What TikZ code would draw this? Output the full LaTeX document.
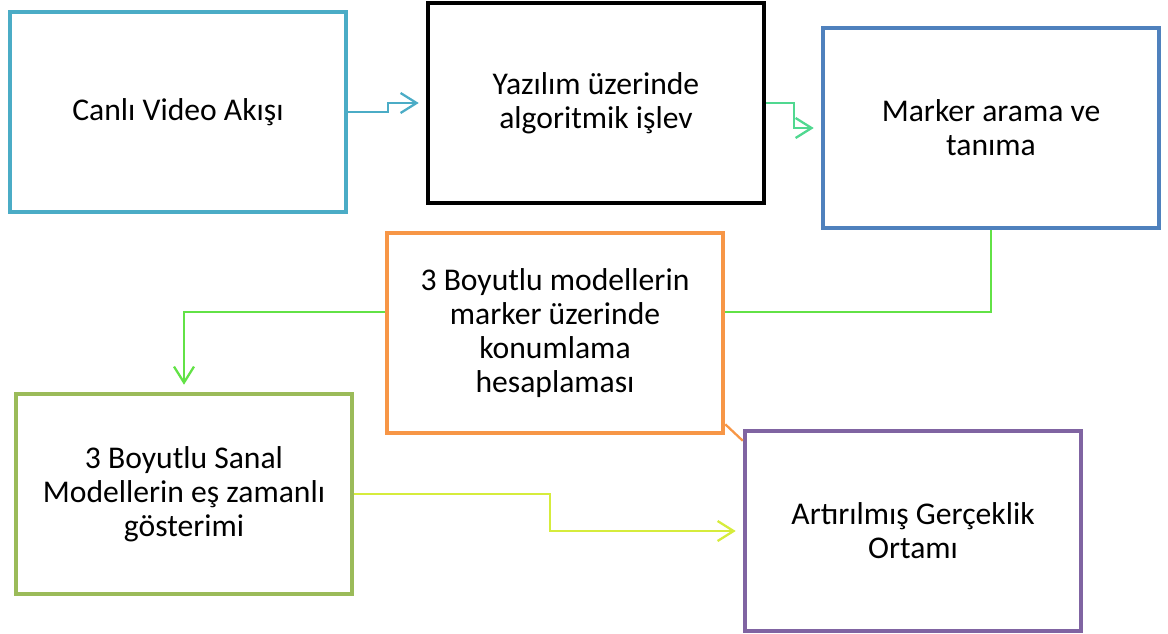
\documentclass[tikz,border=0pt]{standalone}
\usepackage{fontspec}
\setmainfont{Carlito}
\usepackage{tikz}
\usetikzlibrary{arrows.meta, positioning}

\definecolor{boxcyan}{RGB}{75,172,198}
\definecolor{boxblue}{RGB}{79,129,189}
\definecolor{boxorange}{RGB}{247,150,70}
\definecolor{boxgreen}{RGB}{155,187,89}
\definecolor{boxpurple}{RGB}{128,100,162}
\definecolor{lnkteal}{RGB}{80,216,144}
\definecolor{lnkgreen}{RGB}{98,226,70}
\definecolor{lnklime}{RGB}{214,236,60}

\tikzset{
	stagebox/.style={draw, fill=white, line width=2.6pt, minimum width=6.72cm,
		minimum height=4cm, align=center, font=\fontsize{18}{19.3}\selectfont},
	lnk/.style={line width=1.3pt},
	lnkarrow/.style={lnk, -{Straight Barb[length=3.2mm, width=4mm, line width=1.3pt]}, shorten >=4pt}
}

\begin{document}
\begin{tikzpicture}[x=0.02cm, y=-0.02cm]
		\useasboundingbox (0,0) rectangle (1168,633);
		% Stages
		\node[stagebox, draw=boxcyan] (video) at (178,112) {Canlı Video Akışı};
		\node[stagebox, draw=black] (soft) at (596,103) {Yazılım üzerinde\\algoritmik işlev};
		\node[stagebox, draw=boxblue] (marker) at (991,128) {Marker arama ve\\tanıma};
		\node[stagebox, draw=boxorange] (pose) at (555,333) {3 Boyutlu modellerin\\marker üzerinde\\konumlama\\hesaplaması};
		\node[stagebox, draw=boxgreen] (show) at (184,494) {3 Boyutlu Sanal\\Modellerin eş zamanlı\\gösterimi};
		\node[stagebox, draw=boxpurple] (ar) at (913,531) {Artırılmış Gerçeklik\\Ortamı};

		% Links
		\draw[lnkarrow, boxcyan] (video.east) -- ++(40,0) |- (soft.west);
		\draw[lnkarrow, lnkteal] (soft.east) -- ++(28,0) |- (marker.west);
		\draw[lnk, lnkgreen] (marker.south) |- ([yshift=0.42cm]pose.east);
		\draw[lnkarrow, lnkgreen] ([yshift=0.42cm]pose.west) -| (show.north);
		\draw[lnkarrow, lnklime] (show.east) -- ++(196,0) |- (ar.west);
		\draw[lnk, boxorange] ([yshift=0.22cm]pose.south east) -- ([yshift=-0.24cm]ar.north west);
	\end{tikzpicture}
\end{document}
